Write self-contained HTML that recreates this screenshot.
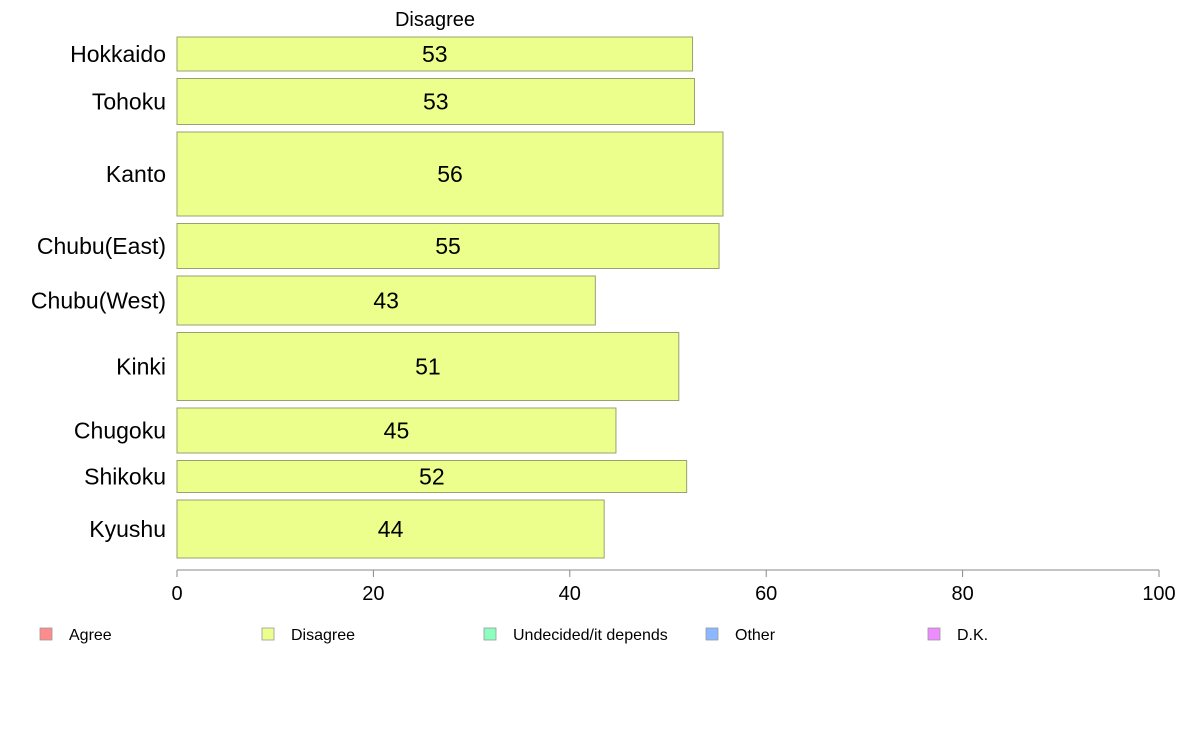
<!DOCTYPE html>
<html><head><meta charset="utf-8"><style>
body{margin:0;background:#fff;font-family:"Liberation Sans",Arial,sans-serif;}
</style></head><body>
<svg id="chart" width="1188" height="736" xmlns="http://www.w3.org/2000/svg" font-family="Liberation Sans, Arial, sans-serif"></svg>
<script>
const categories=["Hokkaido","Tohoku","Kanto","Chubu(East)","Chubu(West)","Kinki","Chugoku","Shikoku","Kyushu"];
const disagreeValues=[52.5,52.7,55.6,55.2,42.6,51.1,44.7,51.9,43.5];
const rowWeights=[34,46,84,45,49,68,45,32,58];
const xTicks=[0,20,40,60,80,100];
const legendLabels=["Agree","Disagree","Undecided/it depends","Other","D.K."];
const legendColors=["#ff8c8c","#ecff8c","#8cffbe","#8cb8ff","#ec8cff"];

const svg=document.getElementById('chart');
const NS="http://www.w3.org/2000/svg";
const x0=177,x1=1159,yTop=37,yBot=558,gap=7.5;
const xs=v=>x0+(v/100)*(x1-x0);
function mk(t,a,txt){const e=document.createElementNS(NS,t);for(const k in a)e.setAttribute(k,a[k]);if(txt!==undefined)e.textContent=txt;svg.appendChild(e);return e;}

let title=mk('text',{x:435,y:26,'font-size':20,'text-anchor':'middle',fill:'#000'},'Disagree');



const totalW=rowWeights.reduce((a,b)=>a+b,0);
const avail=yBot-yTop-gap*(categories.length-1);
let y=yTop;
categories.forEach((c,i)=>{
  const h=rowWeights[i]/totalW*avail;
  const r=mk('rect',{x:x0,y:y,width:xs(disagreeValues[i])-x0,height:h,fill:'#ecff8c',stroke:'#9aa070','stroke-width':1});
  
  
  const vl=mk('text',{x:(x0+xs(disagreeValues[i]))/2,y:y+h/2+8,'font-size':23,'text-anchor':'middle',fill:'#000'},Math.round(disagreeValues[i]));
  
  
  const cl=mk('text',{x:166,y:y+h/2+8,'font-size':23,'text-anchor':'end',fill:'#000'},c);
  
  
  y+=h+gap;
});

const ax=mk('line',{x1:x0,y1:570,x2:x1,y2:570,stroke:'#888','stroke-width':1});


xTicks.forEach(t=>{
  const tk=mk('line',{x1:xs(t),y1:570,x2:xs(t),y2:577,stroke:'#888','stroke-width':1});
  
  
  const tl=mk('text',{x:xs(t),y:600,'font-size':20,'text-anchor':'middle',fill:'#000'},t);
  
  
});

legendLabels.forEach((l,i)=>{
  const lx=40+i*222;
  const sw=mk('rect',{x:lx,y:628,width:12,height:12,fill:legendColors[i],stroke:'#999','stroke-width':0.8});
  
  
  const lt=mk('text',{x:lx+29,y:640,'font-size':16,fill:'#000'},l);
  
  
});
</script>
</body></html>
